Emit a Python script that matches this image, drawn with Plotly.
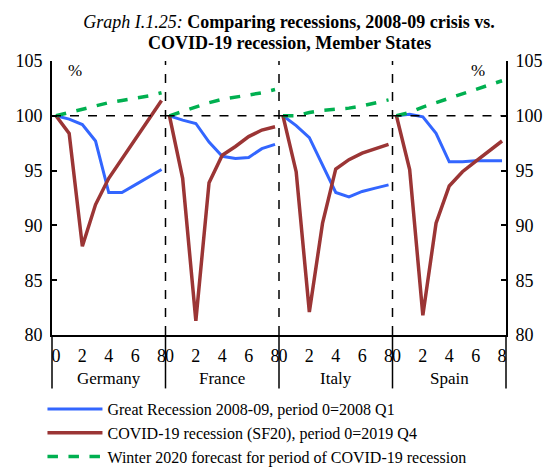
import plotly.graph_objects as go
from plotly.subplots import make_subplots

countries = ["Germany", "France", "Italy", "Spain"]
periods = [0, 1, 2, 3, 4, 5, 6, 7, 8]

great_recession = {
    "Germany": [100, 99.7, 99.2, 97.7, 93.0, 93.0, 93.7, 94.4, 95.1],
    "France":  [100, 99.6, 99.3, 97.6, 96.3, 96.1, 96.2, 97.0, 97.4],
    "Italy":   [100, 99.1, 98.0, 95.5, 93.0, 92.6, 93.1, 93.4, 93.7],
    "Spain":   [100, 100.15, 99.9, 98.4, 95.8, 95.8, 95.9, 95.9, 95.9],
}
covid_sf20 = {
    "Germany": [100, 98.4, 88.1, 91.9, 94.3, 96.1, 97.9, 99.6, 101.4],
    "France":  [100, 94.3, 81.3, 93.9, 96.4, 97.2, 98.1, 98.7, 99.0],
    "Italy":   [100, 94.9, 82.1, 90.2, 95.15, 96.0, 96.6, 97.0, 97.4],
    "Spain":   [100, 95.1, 81.8, 90.2, 93.6, 94.9, 95.85, 96.75, 97.7],
}
winter_2020 = {
    "Germany": [100, 100.3, 100.6, 100.9, 101.2, 101.4, 101.6, 101.8, 102.1],
    "France":  [100, 100.4, 100.8, 101.2, 101.5, 101.7, 101.9, 102.1, 102.4],
    "Italy":   [100, 100.0, 100.3, 100.5, 100.6, 100.7, 100.9, 101.2, 101.45],
    "Spain":   [100, 100.3, 100.8, 101.2, 101.6, 102.0, 102.4, 102.8, 103.2],
}
xtick_vals = [0, 2, 4, 6, 8]
ytick_vals = [80, 85, 90, 95, 100, 105]

names = [
    "Great Recession 2008-09, period 0=2008 Q1",
    "COVID-19 recession (SF20), period 0=2019 Q4",
    "Winter 2020 forecast for period of COVID-19 recession",
]
title_line1 = "<i>Graph I.1.25:</i> <b>Comparing recessions, 2008-09 crisis vs.</b>"
title_line2 = "<b>COVID-19 recession, Member States</b>"

BLUE = "#3366FF"
RED = "#9B3535"
GREEN = "#00B050"
FONT = "Liberation Serif"

fig = make_subplots(rows=1, cols=4, horizontal_spacing=0)

for i, c in enumerate(countries):
    col = i + 1
    show = i == 0
    fig.add_trace(go.Scatter(x=periods, y=great_recession[c], mode="lines",
                             line=dict(color=BLUE, width=3), name=names[0],
                             showlegend=show, legendgroup="a"), row=1, col=col)
    fig.add_trace(go.Scatter(x=periods, y=covid_sf20[c], mode="lines",
                             line=dict(color=RED, width=3.5), name=names[1],
                             showlegend=show, legendgroup="b"), row=1, col=col)
    fig.add_trace(go.Scatter(x=periods, y=winter_2020[c], mode="lines",
                             line=dict(color=GREEN, width=3.5, dash="dash"), name=names[2],
                             showlegend=show, legendgroup="c"), row=1, col=col)

for i in range(4):
    fig.update_xaxes(range=[-0.3, 8.3], tickvals=xtick_vals, showgrid=False, zeroline=False,
                     showline=True, linecolor="black", linewidth=2, ticks="", automargin=False,
                     ticklabelstandoff=3,
                     tickfont=dict(family=FONT, size=18, color="black"), row=1, col=i + 1)
    fig.update_yaxes(range=[80, 105], tickvals=ytick_vals, showgrid=False, zeroline=False,
                     showticklabels=False, showline=False, automargin=False, row=1, col=i + 1)

fig.update_yaxes(showticklabels=True, showline=True, linecolor="black", linewidth=2,
                 ticks="inside", ticklen=5, tickcolor="black", tickwidth=1.5, side="left",
                 ticklabelstandoff=4,
                 tickfont=dict(family=FONT, size=18, color="black"), row=1, col=1)
fig.update_yaxes(showticklabels=True, showline=True, linecolor="black", linewidth=2,
                 ticks="inside", ticklen=5, tickcolor="black", tickwidth=1.5, side="right",
                 ticklabelstandoff=4,
                 tickfont=dict(family=FONT, size=18, color="black"), row=1, col=4)

shapes = []
# horizontal dashed line at 100
for i in range(4):
    xr = "x" if i == 0 else f"x{i+1}"
    yr = "y" if i == 0 else f"y{i+1}"
    shapes.append(dict(type="line", xref=f"{xr} domain", yref=yr, x0=0, x1=1, y0=100, y1=100,
                       line=dict(color="black", width=1.5, dash="dash")))
# vertical separators
for b in [0.25, 0.5, 0.75]:
    shapes.append(dict(type="line", xref="paper", yref="paper", x0=b, x1=b, y0=0, y1=1,
                       line=dict(color="black", width=1.5, dash="dash")))
for b in [0, 0.25, 0.5, 0.75, 1]:
    shapes.append(dict(type="line", xref="paper", yref="paper", x0=b, x1=b, y0=0, y1=-0.195,
                       line=dict(color="black", width=1.5)))

annotations = []
for i, c in enumerate(countries):
    annotations.append(dict(text=c, xref="paper", yref="paper", x=0.125 + 0.25 * i, y=-0.157,
                            showarrow=False, xanchor="center", yanchor="middle",
                            font=dict(family=FONT, size=17, color="black")))
annotations.append(dict(text="%", xref="paper", yref="paper", x=0.05, y=0.965, showarrow=False,
                        xanchor="center", yanchor="middle", font=dict(family=FONT, size=17, color="black")))
annotations.append(dict(text="%", xref="paper", yref="paper", x=0.938, y=0.965, showarrow=False,
                        xanchor="center", yanchor="middle", font=dict(family=FONT, size=17, color="black")))
annotations.append(dict(text=title_line2, xref="paper", yref="paper",
                        x=(289 - 52) / 454, y=(335 - 43) / 274, showarrow=False,
                        xanchor="center", yanchor="middle",
                        font=dict(family=FONT, size=18, color="black")))

fig.update_layout(
    width=551, height=467,
    margin=dict(l=52, r=45, t=61, b=132, autoexpand=False),
    paper_bgcolor="white", plot_bgcolor="white",
    title=dict(text=title_line1,
               x=289 / 551, xanchor="center", y=1 - 22 / 467, yanchor="middle",
               font=dict(family=FONT, size=18, color="black")),
    shapes=shapes, annotations=annotations,
    legend=dict(x=-0.021, y=-0.208, xanchor="left", yanchor="top", orientation="v",
                font=dict(family=FONT, size=16, color="black"), itemwidth=55,
                bgcolor="rgba(0,0,0,0)", tracegroupgap=0),
    showlegend=True,
)

fig.write_html("out.html", config={"displayModeBar": False},
               post_script="document.body.style.margin='0';document.body.style.padding='0';document.body.style.overflow='hidden';")
